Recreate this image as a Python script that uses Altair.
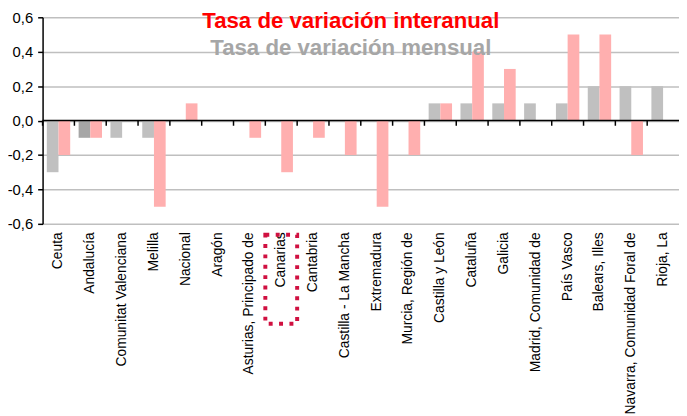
import altair as alt
import pandas as pd

regions = ["Ceuta", "Andalucía", "Comunitat Valenciana", "Melilla", "Nacional", "Aragón",
           "Asturias, Principado de", "Canarias", "Cantabria", "Castilla - La Mancha",
           "Extremadura", "Murcia, Región de", "Castilla y León", "Cataluña", "Galicia",
           "Madrid, Comunidad de", "País Vasco", "Balears, Illes",
           "Navarra, Comunidad Foral de", "Rioja, La"]
mensual = [-0.3, -0.1, -0.1, -0.1, 0, 0, 0, 0, 0, 0, 0, 0, 0.1, 0.1, 0.1, 0.1, 0.1, 0.2, 0.2, 0.2]
interanual = [-0.2, -0.1, 0, -0.5, 0.1, 0, -0.1, -0.3, -0.1, -0.2, -0.5, -0.2, 0.1, 0.4, 0.3, 0, 0.5, 0.5, -0.2, 0]
series = ["Tasa de variación mensual", "Tasa de variación interanual"]
highlight_region = "Andalucía"
boxed_region = "Canarias"
y_ticks = [-0.6, -0.4, -0.2, 0.0, 0.2, 0.4, 0.6]

rows = []
for r, m, i in zip(regions, mensual, interanual):
    rows.append({"region": r, "serie": series[0], "valor": m,
                 "color": "#A6A6A6" if r == highlight_region else "#C0C0C0"})
    rows.append({"region": r, "serie": series[1], "valor": i, "color": "#FFAFAF"})
df = pd.DataFrame(rows)

xscale = alt.Scale(domain=regions, paddingInner=0, paddingOuter=0)
yscale = alt.Scale(domain=[-0.6, 0.6], nice=False)

x_axis = alt.Axis(labelAngle=270, labelFont="Liberation Sans", labelFontSize=14,
                  labelColor="black", labelPadding=8, domain=False, ticks=False,
                  labelLimit=300, labelOverlap=False, title=None)
y_axis = alt.Axis(values=y_ticks,
                  labelExpr="(datum.value < 0 ? '-' : '') + replace(format(abs(datum.value), '.1f'), '.', ',')",
                  labelFont="Liberation Sans", labelFontSize=15, labelColor="black",
                  labelPadding=5, tickSize=5, tickColor="black", tickWidth=1.5,
                  labelOverlap=False, title=None,
                  domainColor="black", domainWidth=1.5,
                  gridColor="#BFBFBF", gridWidth=1.5)

bars = alt.Chart(df).mark_bar().encode(
    x=alt.X("region:N", sort=regions, scale=xscale, title=None, axis=x_axis),
    xOffset=alt.XOffset("serie:N", sort=series,
                        scale=alt.Scale(domain=series, paddingInner=0, paddingOuter=0.36)),
    y=alt.Y("valor:Q", scale=yscale, title=None, axis=y_axis),
    color=alt.Color("color:N", scale=None),
)

zero = alt.Chart(pd.DataFrame({"v": [0]})).mark_rule(color="black", strokeWidth=1.5).encode(
    y=alt.Y("v:Q", scale=yscale, title=None, axis=y_axis)
)

tick_df = pd.DataFrame({"region": regions, "y0": [0] * len(regions), "y1": [-0.03] * len(regions)})
ticks = alt.Chart(tick_df).mark_rule(color="black", strokeWidth=1.5).encode(
    x=alt.X("region:N", sort=regions, scale=xscale, bandPosition=0, title=None, axis=x_axis),
    y=alt.Y("y0:Q", scale=yscale, title=None, axis=y_axis),
    y2="y1:Q",
)

legend_df = pd.DataFrame({
    "region": ["Castilla - La Mancha", "Castilla - La Mancha"],
    "texto": ["Tasa de variación interanual", "Tasa de variación mensual"],
    "yv": [0.535, 0.382],
    "c": ["#FF0000", "#A6A6A6"],
})
legend = alt.Chart(legend_df).mark_text(fontSize=22.5, fontWeight="bold", font="Liberation Sans",
                                         baseline="alphabetic", align="center", dx=6).encode(
    x=alt.X("region:N", sort=regions, scale=xscale, title=None, axis=x_axis),
    y=alt.Y("yv:Q", scale=yscale, title=None, axis=y_axis),
    text="texto:N",
    color=alt.Color("c:N", scale=None),
)

box = alt.Chart(pd.DataFrame({"region": [boxed_region]})).mark_rect(
    filled=False, stroke="#D01040", strokeWidth=4, strokeDash=[4, 6.5]
).encode(
    x=alt.X("region:N", sort=regions, scale=xscale, title=None, axis=x_axis),
    y=alt.value(220),
    y2=alt.value(310),
)

chart = alt.layer(bars, zero, ticks, legend, box).properties(
    width=644, height=209,
    autosize=alt.AutoSizeParams(type="none"),
    padding={"left": 35, "top": 7, "right": 0, "bottom": 190},
).configure_view(stroke=None)

chart.save("out.html", embed_options={"renderer": "svg", "actions": False})
